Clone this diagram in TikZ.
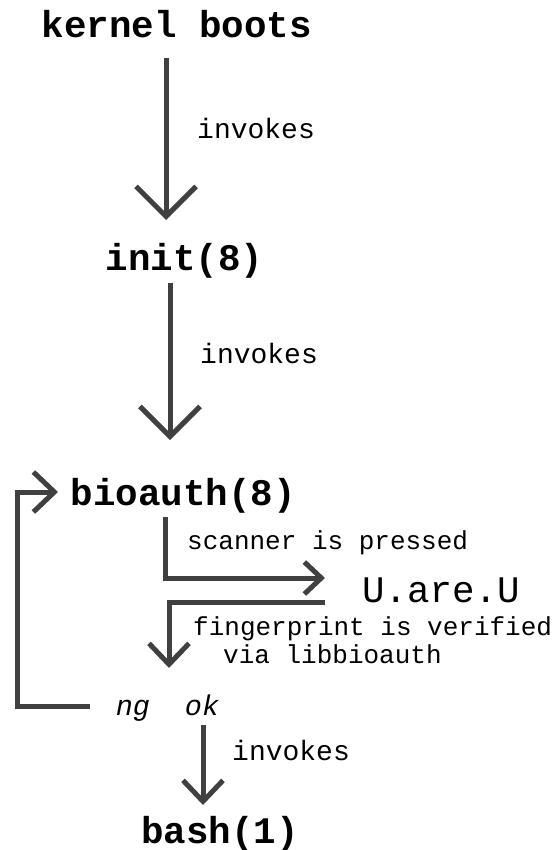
\documentclass[tikz,border=0pt]{standalone}
\usepackage{fontspec}
\setmonofont{Liberation Mono}
\usetikzlibrary{arrows.meta}
\definecolor{linegray}{HTML}{404040}
\tikzset{
  big/.style={font=\ttfamily\bfseries\fontsize{37.5}{37.5}\selectfont, inner sep=0pt, anchor=base},
  uare/.style={font=\ttfamily\fontsize{37.5}{37.5}\selectfont, inner sep=0pt, anchor=base},
  lbl/.style={font=\ttfamily\fontsize{28}{28}\selectfont, inner sep=0pt, anchor=base west},
  sml/.style={font=\ttfamily\fontsize{26}{26}\selectfont, inner sep=0pt, anchor=base west},
  itl/.style={font=\ttfamily\itshape\fontsize{28.5}{28.5}\selectfont, inner sep=0pt, anchor=base},
  conn/.style={draw=linegray, line width=5pt},
  bigarr/.style={conn, -{Straight Barb[length=30pt,width=60pt]}},
  midarr/.style={conn, -{Straight Barb[length=21pt,width=40pt]}},
  smlarr/.style={conn, -{Straight Barb[length=17pt,width=32pt]}},
}
\begin{document}
\begin{tikzpicture}[x=1pt,y=-1pt]
\useasboundingbox (0,0) rectangle (555,850);
% nodes
\node[big] (kernel) at (177,38) {kernel boots};
\node[big] (init) at (184.5,270) {init(8)};
\node[big] (bio) at (183.5,505) {bioauth(8)};
\node[uare] (uare) at (441,602) {U.are.U};
\node[itl] (ng) at (133,715) {ng};
\node[itl] (ok) at (202,715) {ok};
\node[big] (bash) at (220,843) {bash(1)};
% labels
\node[lbl] (inv1) at (197,139) {invokes};
\node[lbl] (inv2) at (200,363) {invokes};
\node[lbl] (inv3) at (232,760) {invokes};
\node[sml] (scan) at (187,549) {scanner is pressed};
\node[sml] (fing) at (193,635) {fingerprint is verified};
\node[sml] (via) at (223,663) {via libbioauth};
% connector ends
\coordinate (a1s) at (166,58);
\coordinate (a1e) at (166,220);
\coordinate (a2s) at (170,283);
\coordinate (a2e) at (170,440);
\coordinate (fbs) at (90,706);
\coordinate (fbl) at (17,706);
\coordinate (fbt) at (17,492);
\coordinate (fbe) at (58,492);
\coordinate (scs) at (165,517);
\coordinate (scc) at (165,578);
\coordinate (sce) at (325,578);
\coordinate (rts) at (325,602);
\coordinate (rtc) at (169,602);
\coordinate (rte) at (169,668);
\coordinate (a3s) at (203,725);
\coordinate (a3e) at (203,805);
% connectors
\draw[bigarr] (a1s) -- (a1e);
\draw[bigarr] (a2s) -- (a2e);
\draw[midarr] (fbs) -- (fbl) -- (fbt) -- (fbe);
\draw[smlarr] (scs) -- (scc) -- (sce);
\draw[midarr] (rts) -- (rtc) -- (rte);
\draw[midarr] (a3s) -- (a3e);
\end{tikzpicture}
\end{document}
